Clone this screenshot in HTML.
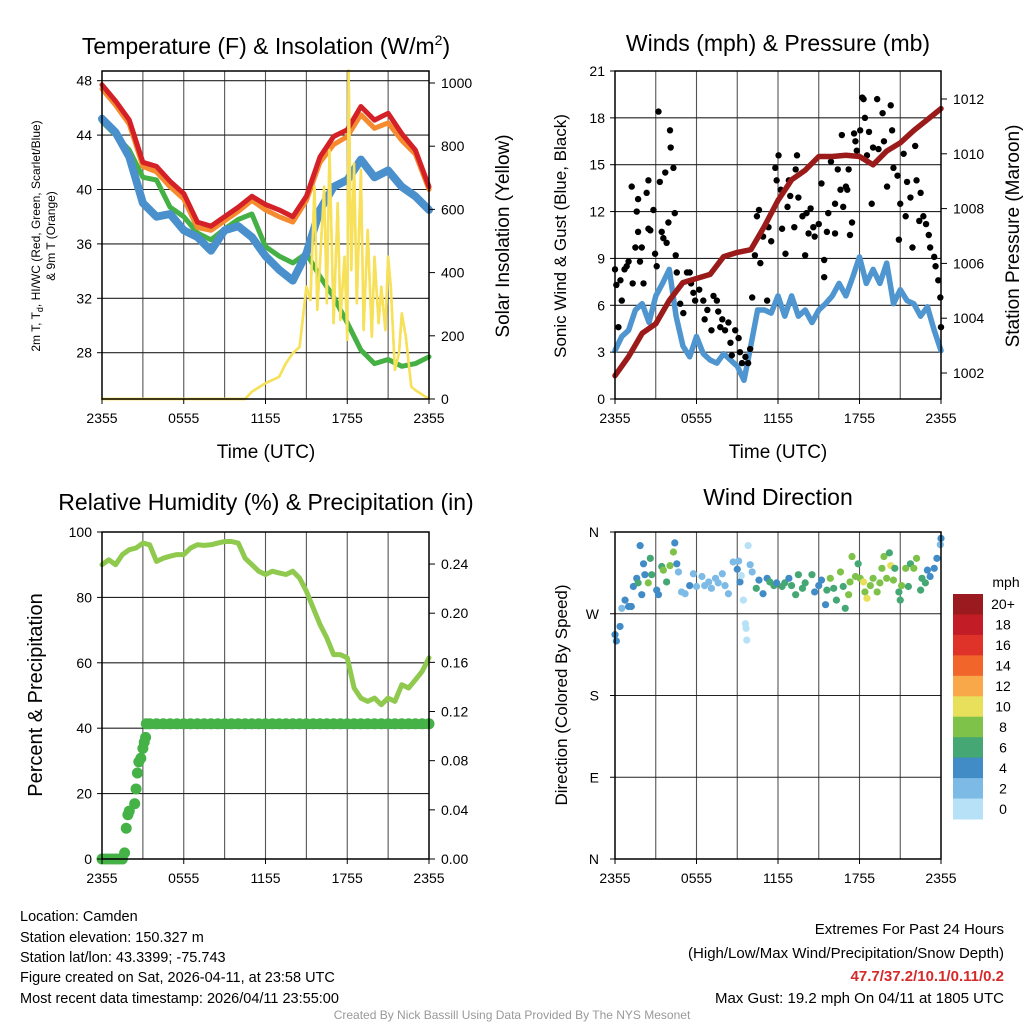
<!DOCTYPE html>
<html><head><meta charset="utf-8"><style>
html,body{margin:0;padding:0;background:#fff;}
svg{display:block;font-family:"Liberation Sans",Arial,sans-serif;}
</style></head><body>
<svg id="fig" width="1024" height="1024" viewBox="0 0 1024 1024" xmlns="http://www.w3.org/2000/svg">
<rect x="0" y="0" width="1024" height="1024" fill="#fff"/>
<text x="266" y="54" font-size="23" text-anchor="middle">Temperature (F) &amp; Insolation (W/m<tspan font-size="14" dy="-9">2</tspan><tspan dy="9">)</tspan></text>
<text x="778" y="51" font-size="23" text-anchor="middle">Winds (mph) &amp; Pressure (mb)</text>
<text x="266" y="510" font-size="23" text-anchor="middle">Relative Humidity (%) &amp; Precipitation (in)</text>
<text x="778" y="505" font-size="23" text-anchor="middle">Wind Direction</text>
<text x="266" y="458" font-size="19" text-anchor="middle">Time (UTC)</text>
<text x="778" y="458" font-size="19" text-anchor="middle">Time (UTC)</text>
<text transform="translate(40,236) rotate(-90)" font-size="12" text-anchor="middle">2m T, T<tspan font-size="9" dy="3">d</tspan><tspan dy="-3">, HI/WC (Red, Green, Scarlet/Blue)</tspan></text>
<text transform="translate(55,236) rotate(-90)" font-size="12" text-anchor="middle">&amp; 9m T (Orange)</text>
<text transform="translate(509,236) rotate(-90)" font-size="19" text-anchor="middle">Solar Insolation (Yellow)</text>
<text transform="translate(566,236) rotate(-90)" font-size="17" text-anchor="middle">Sonic Wind &amp; Gust (Blue, Black)</text>
<text transform="translate(1019,236) rotate(-90)" font-size="19" text-anchor="middle">Station Pressure (Maroon)</text>
<text transform="translate(42,695) rotate(-90)" font-size="20" text-anchor="middle">Percent &amp; Precipitation</text>
<text transform="translate(567,695) rotate(-90)" font-size="17" text-anchor="middle">Direction (Colored By Speed)</text>
<g font-size="14.5">
<text x="20" y="921">Location: Camden</text>
<text x="20" y="942">Station elevation: 150.327 m</text>
<text x="20" y="962">Station lat/lon: 43.3399; -75.743</text>
<text x="20" y="982">Figure created on Sat, 2026-04-11, at 23:58 UTC</text>
<text x="20" y="1003">Most recent data timestamp: 2026/04/11 23:55:00</text>
</g>
<g font-size="15" text-anchor="end">
<text x="1004" y="934">Extremes For Past 24 Hours</text>
<text x="1004" y="958">(High/Low/Max Wind/Precipitation/Snow Depth)</text>
<text x="1004" y="981" font-weight="bold" fill="#d42a2a">47.7/37.2/10.1/0.11/0.2</text>
<text x="1004" y="1003">Max Gust: 19.2 mph On 04/11 at 1805 UTC</text>
</g>
<text x="512" y="1019" font-size="12" fill="#999" text-anchor="middle">Created By Nick Bassill Using Data Provided By The NYS Mesonet</text>
<g id="layer"></g>
</svg>
<script>
const tempHours = [0,1,2,3,4,5,6,7,8,9,10,11,12,13,14,15,16,17,18,19,20,21,22,23,24];
const tempRed = [47.7,46.5,45.1,42.0,41.7,40.6,39.7,37.6,37.3,38.0,38.7,39.5,38.9,38.5,38.0,39.5,42.4,43.9,44.4,46.1,45.1,45.6,44.1,42.9,40.2];
const tempOrange = [47.4,46.2,44.8,41.7,41.3,40.2,39.3,37.2,37.0,37.7,38.4,39.2,38.5,38.0,37.6,39.2,42.0,43.3,43.9,45.5,44.5,44.9,43.6,42.6,40.0];
const tempGreen = [45.0,44.0,42.9,40.9,40.7,38.7,38.0,36.8,36.3,37.1,37.8,38.2,35.8,35.1,34.6,35.3,33.6,32.1,30.2,28.2,27.2,27.5,27.0,27.2,27.7];
const tempBlue = [45.2,44.2,42.4,39.0,38.0,38.2,37.0,36.5,35.5,37.0,37.3,36.5,35.1,34.1,33.3,35.3,38.5,40.2,40.7,42.2,40.9,41.4,40.2,39.5,38.5];
const solarHours = [0,10.5,11,12,13,13.5,14,14.5,15,15.3,15.6,15.8,16,16.3,16.5,16.7,17,17.3,17.5,17.8,18,18.1,18.3,18.5,18.7,19,19.2,19.5,19.8,20,20.3,20.5,20.8,21,21.2,21.5,21.8,22,22.3,22.7,23,24];
const solarValues = [0,0,23,50,70,113,145,165,355,313,672,282,430,672,303,788,240,620,250,450,187,1040,408,746,303,725,218,535,197,450,240,355,218,450,355,92,145,271,197,39,28,0];
const tempTicks = [28,32,36,40,44,48];
const solarTicks = [0,200,400,600,800,1000];
const timeLabels = ['2355','0555','1155','1755','2355'];
const timeLabelHours = [0,6,12,18,24];
const windHours = [0,0.5,1,1.5,2,2.5,3,3.5,4,4.5,5,5.5,6,6.5,7,7.5,8,8.5,9,9.5,10,10.5,11,11.5,12,12.5,13,13.5,14,14.5,15,15.5,16,16.5,17,17.5,18,18.5,19,19.5,20,20.5,21,21.5,22,22.5,23,23.5,24];
const windSpeeds = [3.1,4.0,4.4,5.7,6.1,4.9,6.6,7.4,8.3,5.3,3.4,2.7,4.0,2.9,2.5,2.3,2.9,2.5,2.1,1.2,3.4,5.7,5.7,5.5,6.6,5.3,6.6,5.3,5.7,4.9,5.7,6.1,6.6,7.4,6.6,7.8,9.1,7.4,8.3,7.4,8.7,6.1,7.0,6.3,6.1,5.3,5.9,4.4,3.1];
const pressHours = [0,1,2,3,4,5,6,7,8,9,10,11,12,13,14,15,16,17,18,19,20,21,22,23,24];
const pressValues = [1001.9,1002.6,1003.45,1003.8,1004.65,1005.3,1005.45,1005.6,1006.25,1006.4,1006.5,1007.35,1008.3,1009.05,1009.4,1009.9,1009.9,1009.95,1009.9,1009.6,1010.1,1010.4,1010.85,1011.25,1011.65];
const gustHours = [0,0.1,0.4,0.5,0.25,0.7,0.86,1,1.23,1.3,1.5,1.6,1.7,1.7,1.84,1.97,2.1,2.33,2.46,2.46,2.6,2.83,2.95,3.07,3.2,3.3,3.44,3.56,3.7,3.8,3.93,4.05,4.1,4.3,4.4,4.47,4.55,4.8,5.03,5.3,5.5,5.6,5.77,5.9,6.2,6.5,6.6,6.8,7.1,7.25,7.5,7.6,7.75,7.9,8.1,8.35,8.5,8.6,8.85,9.1,9.2,9.35,9.6,9.8,9.95,10.1,10.3,10.45,10.6,10.7,10.9,11.2,11.3,11.5,11.8,11.9,12.04,12.2,12.3,12.55,12.7,12.8,12.9,13.2,13.3,13.4,13.5,13.8,14.0,14.1,14.25,14.4,14.6,14.7,15.0,15.2,15.4,15.4,15.6,15.7,15.9,16.2,16.2,16.4,16.6,16.7,16.8,17.0,17.1,17.2,17.3,17.45,17.6,17.7,17.8,18.05,18.2,18.3,18.4,18.55,18.7,18.9,19.0,19.3,19.4,19.7,19.8,20.03,20.3,20.4,20.5,20.8,20.9,21.0,21.25,21.4,21.5,21.75,21.9,22.1,22.2,22.4,22.5,22.7,22.9,23.1,23.2,23.5,23.6,23.8,23.95,24];
const gustValues = [8.3,7.3,7.6,6.3,4.6,8.3,8.5,8.8,13.6,7.4,9.7,12.0,12.8,10.7,8.8,9.7,7.4,13.2,14.0,10.9,10.8,12.1,9.3,8.5,18.4,13.9,10.7,10.3,14.5,10.0,11.3,17.2,16.1,14.8,11.9,9.2,8.1,6.1,5.5,8.1,8.1,7.4,6.8,6.3,7.0,6.3,5.1,5.7,4.4,6.6,6.3,5.6,4.6,5.1,4.4,4.9,3.6,2.8,4.4,3.9,3.0,2.3,2.7,2.3,3.2,6.5,9.2,11.7,12.1,8.7,10.4,6.3,11.0,10.1,14.8,14.0,15.6,13.4,10.9,9.3,12.3,14.0,13.0,11.0,14.7,15.6,12.9,11.7,9.2,11.9,10.6,12.2,11.0,10.4,11.2,13.8,7.8,8.9,10.7,11.9,15.2,12.5,10.6,14.7,13.4,16.9,12.3,13.6,13.4,14.7,10.5,11.3,17.0,16.5,15.9,17.2,19.3,19.2,18.0,15.6,17.1,12.5,16.1,19.2,16.0,18.3,16.5,13.6,18.8,17.2,14.8,14.3,10.2,12.5,15.7,11.7,13.9,12.9,9.7,16.2,14.0,11.4,13.2,11.7,11.2,10.5,9.7,9.1,8.5,7.6,6.5,4.6];
const windTicks = [0,3,6,9,12,15,18,21];
const pressTicks = [1002,1004,1006,1008,1010,1012];
const rhHours = [0,0.5,1,1.5,2,2.5,3,3.5,4,4.5,5,5.5,6,6.5,7,7.5,8,8.5,9,9.5,10,10.5,11,11.5,12,12.5,13,13.5,14,14.5,15,15.5,16,16.5,17,17.5,18,18.5,19,19.5,20,20.5,21,21.5,22,22.5,23,23.5,24];
const rhValues = [90.0,91.5,90.0,93.1,94.6,95.1,96.6,96.1,91.0,92.0,92.6,93.1,93.1,95.1,96.1,95.9,96.1,96.6,97.1,97.1,96.6,92.0,90.0,88.0,87.0,88.0,87.5,87.0,88.0,85.9,81.9,76.8,71.7,67.6,62.5,62.5,61.5,52.3,49.2,48.2,49.2,47.2,49.2,48.2,53.3,52.3,54.8,57.4,61.5];
const precipHours = [0,0.25,0.5,0.75,1,1.25,1.5,1.66,1.78,1.9,2.0,2.4,2.5,2.6,2.7,2.85,3.0,3.1,3.2,3.25,3.5,4,4.5,5,5.5,6,6.5,7,7.5,8,8.5,9,9.5,10,10.5,11,11.5,12,12.5,13,13.5,14,14.5,15,15.5,16,16.5,17,17.5,18,18.5,19,19.5,20,20.5,21,21.5,22,22.5,23,23.5,24];
const precipValues = [0,0,0,0,0,0,0,0.005,0.025,0.036,0.039,0.045,0.057,0.070,0.079,0.082,0.090,0.095,0.099,0.11,0.11,0.11,0.11,0.11,0.11,0.11,0.11,0.11,0.11,0.11,0.11,0.11,0.11,0.11,0.11,0.11,0.11,0.11,0.11,0.11,0.11,0.11,0.11,0.11,0.11,0.11,0.11,0.11,0.11,0.11,0.11,0.11,0.11,0.11,0.11,0.11,0.11,0.11,0.11,0.11,0.11,0.11];
const rhTicks = [0,20,40,60,80,100];
const precipTicks = [0,0.04,0.08,0.12,0.16,0.20,0.24];
const precipTickLabels = ['0.00','0.04','0.08','0.12','0.16','0.20','0.24'];
const dirHours = [0,0.1,0.37,0.5,0.74,1.0,1.2,1.35,1.6,1.7,1.85,1.97,2.1,2.2,2.45,2.6,2.7,3.07,3.2,3.44,3.56,3.8,4.05,4.3,4.4,4.55,4.67,4.9,5.16,5.5,5.77,6.0,6.4,6.6,6.9,7.1,7.4,7.6,7.9,8.1,8.35,8.7,9.0,9.1,9.2,9.3,9.45,9.6,9.65,9.7,9.8,9.95,10.1,10.4,10.6,10.9,11.2,11.4,11.7,11.9,12.3,12.5,12.8,13.0,13.3,13.5,13.8,14.0,14.5,14.7,15.0,15.2,15.5,15.6,15.85,16.1,16.3,16.6,16.8,16.95,17.2,17.3,17.45,17.7,17.9,18.05,18.3,18.4,18.55,18.8,19.0,19.3,19.5,19.65,19.8,20.0,20.2,20.3,20.5,20.6,20.9,21.0,21.1,21.4,21.6,21.75,22.0,22.2,22.5,22.6,22.85,23.0,23.2,23.5,23.7,23.95,24.0];
const dirValues = [247,240,256,276,285,278,278,300,309,304,345,291,325,313,304,331,313,296,291,322,318,305,323,338,348,325,316,294,292,301,314,300,311,301,305,298,309,304,314,301,292,327,319,328,305,312,285,259,254,241,345,324,316,298,307,292,309,305,301,304,300,304,309,301,291,313,298,304,313,294,301,307,280,296,309,298,285,316,300,276,291,305,333,311,325,309,305,294,287,301,309,294,304,320,333,309,337,323,307,320,294,285,301,320,300,325,320,331,296,309,304,318,311,320,331,346,353];
const dirSpeeds = [4,4,4,2,4,4,4,4,4,6,4,4,4,4,8,6,6,4,4,6,8,6,8,8,4,4,2,2,2,4,2,2,2,2,2,2,2,2,2,2,2,2,4,2,4,0,0,0,0,0,0,2,2,6,4,4,4,6,6,4,6,6,4,6,6,6,6,6,6,4,4,4,4,6,8,6,6,8,6,6,8,8,8,8,6,8,10,8,10,8,8,8,8,8,8,8,6,10,8,6,6,6,8,8,6,6,8,8,6,6,6,4,4,4,4,2,4];
const dirTicks = [0,90,180,270,360];
const dirTickLabels = ['N','E','S','W','N'];
const cbLabels = ['20+','18','16','14','12','10','8','6','4','2','0'];
const cbColors = ['#9b1a1f','#c21d26','#df3329','#f1652a','#f8a849','#e8e05a','#7fc24a','#44a774','#418bc6','#7dbbe6','#b6e1f7'];

const NS='http://www.w3.org/2000/svg';
const layer=document.getElementById('layer');
function mk(tag,attrs,parent){const e=document.createElementNS(NS,tag);for(const k in attrs)e.setAttribute(k,attrs[k]);(parent||layer).appendChild(e);return e;}

const P1={x0:102,x1:429,y0:71,y1:399};
const P2={x0:615,x1:941,y0:71,y1:399};
const P3={x0:102,x1:429,y0:532,y1:859};
const P4={x0:615,x1:941,y0:532,y1:859};
function xs(P){return h=>P.x0+h*(P.x1-P.x0)/24;}
const x1=xs(P1),x2=xs(P2),x3=xs(P3),x4=xs(P4);
const yT=t=>80.7+(48-t)*13.6;
const yS=w=>399-w*0.316;
const yW=s=>399-s*(328/21);
const yP=p=>373-(p-1002)*27.4;
const yRH=r=>859-r*3.27;
const yPr=i=>859-i*1229;
const yD=d=>859-d*327/360;

function frame(P,name,hLines){
  const g=mk('g',{});
  
  
  for(let i=1;i<8;i++){const x=P.x0+i*(P.x1-P.x0)/8;
    const l=mk('line',{x1:x,x2:x,y1:P.y0,y2:P.y1,stroke:'#555','stroke-width':1.1},g);
    
    }
  hLines.forEach(y=>{const l=mk('line',{x1:P.x0,x2:P.x1,y1:y,y2:y,stroke:'#222','stroke-width':1.1},g);
    
    });
}
function border(P,name){
  const r=mk('rect',{x:P.x0,y:P.y0,width:P.x1-P.x0,height:P.y1-P.y0,fill:'none',stroke:'#000','stroke-width':1.5});
  
  
  timeLabelHours.forEach((h,i)=>{const x=xs(P)(h);
    const tk=mk('line',{x1:x,x2:x,y1:P.y1,y2:P.y1+5,stroke:'#000'});
    
    
    const t=mk('text',{x:x,y:P.y1+24,'font-size':14,'text-anchor':'middle'});t.textContent=timeLabels[i];
    
    });
}
function leftTicks(P,vals,fy,labels,dx){
  vals.forEach((v,i)=>{const y=fy(v);
    const tk=mk('line',{x1:P.x0-5,x2:P.x0,y1:y,y2:y,stroke:'#000'});
    
    
    const t=mk('text',{x:P.x0-(dx||10),y:y+5,'font-size':14,'text-anchor':'end'});t.textContent=labels?labels[i]:v;
    
    });
}
function rightTicks(P,vals,fy,labels){
  vals.forEach((v,i)=>{const y=fy(v);
    const tk=mk('line',{x1:P.x1,x2:P.x1+6,y1:y,y2:y,stroke:'#000'});
    
    
    const t=mk('text',{x:P.x1+12,y:y+5,'font-size':14});t.textContent=labels?labels[i]:v;
    
    });
}
function path(xsArr,ysArr,fx,fy,attrs,name){
  let d='';xsArr.forEach((h,i)=>{d+=(i?'L':'M')+fx(h).toFixed(1)+','+fy(ysArr[i]).toFixed(1);});
  const p=mk('path',Object.assign({d:d,fill:'none','stroke-linejoin':'round','stroke-linecap':'round'},attrs));
  
  
  return p;
}

frame(P1,'p1',tempTicks.map(yT));
path(solarHours,solarValues,x1,yS,{stroke:'#f7e05a','stroke-width':2.5},'solar-insolation-line');
path(tempHours,tempGreen,x1,yT,{stroke:'#45b044','stroke-width':5},'dewpoint-line');
path(tempHours,tempBlue,x1,yT,{stroke:'#4a90cc','stroke-width':8},'wind-chill-line');
path(tempHours,tempOrange,x1,yT,{stroke:'#f58a2e','stroke-width':5},'temp-9m-line');
path(tempHours,tempRed,x1,yT,{stroke:'#d42027','stroke-width':5},'temp-2m-line');
path(solarHours,solarValues,x1,yS,{stroke:'#f7e05a','stroke-width':2.5},'solar-insolation-line-top');
border(P1,'p1');
leftTicks(P1,tempTicks,yT);
rightTicks(P1,solarTicks,yS);

frame(P2,'p2',windTicks.slice(1,7).map(yW));
path(windHours,windSpeeds,x2,yW,{stroke:'#4f95d0','stroke-width':5.5},'wind-speed-line');
gustHours.forEach((h,i)=>{const c=mk('circle',{cx:x2(h),cy:yW(gustValues[i]),r:3.2,fill:'#000'});
  
  });
path(pressHours,pressValues,x2,yP,{stroke:'#9b1b1b','stroke-width':5.5},'pressure-line');
border(P2,'p2');
leftTicks(P2,windTicks,yW);
rightTicks(P2,pressTicks,yP);

frame(P3,'p3',rhTicks.map(yRH));
path(rhHours,rhValues,x3,yRH,{stroke:'#8fc94e','stroke-width':5},'relative-humidity-line');
precipHours.forEach((h,i)=>{const c=mk('circle',{cx:x3(h),cy:yPr(precipValues[i]),r:5.5,fill:'#45b247'});
  
  });
border(P3,'p3');
leftTicks(P3,rhTicks,yRH);
rightTicks(P3,precipTicks,yPr,precipTickLabels);

frame(P4,'p4',[yD(90),yD(180),yD(270)]);
function spdColor(s){const idx=Math.min(10,Math.floor(s/2));return cbColors[10-idx];}
dirHours.forEach((h,i)=>{const c=mk('circle',{cx:x4(h),cy:yD(dirValues[i]),r:3.6,fill:spdColor(dirSpeeds[i])});
  
  });
border(P4,'p4');
leftTicks(P4,dirTicks,yD,dirTickLabels,16);

const cbg=mk('g',{});


const cbTop=594,cbH=225/11;
cbColors.forEach((c,i)=>{const r=mk('rect',{x:953,y:cbTop+i*cbH,width:30,height:cbH+0.5,fill:c},cbg);
  
  
  const t=mk('text',{x:1003,y:cbTop+i*cbH+cbH/2+5,'font-size':14,'text-anchor':'middle'},cbg);t.textContent=cbLabels[i];
  
  });
const mt=mk('text',{x:1006,y:587,'font-size':14,'text-anchor':'middle'},cbg);mt.textContent='mph';


</script>
</body></html>
